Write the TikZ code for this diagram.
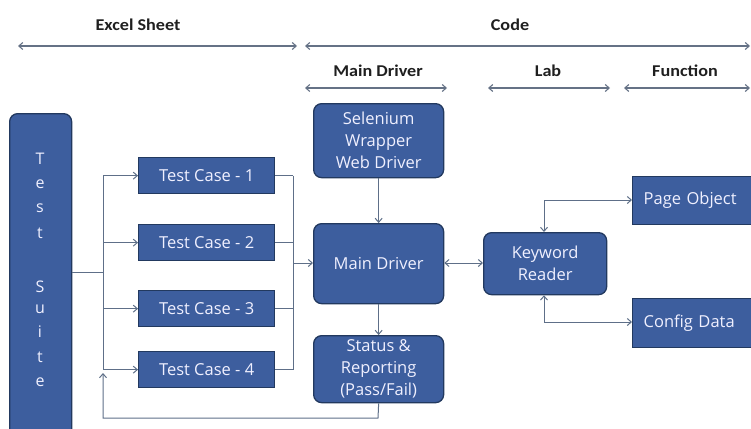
\documentclass[tikz,border=0pt]{standalone}
\usepackage{fontspec}
\setmainfont{Open Sans}
\newfontfamily\headfont{Carlito}[FakeStretch=1.1]
\usetikzlibrary{arrows.meta}
\definecolor{boxfill}{HTML}{3D5E9E}
\definecolor{boxedge}{HTML}{22395F}
\definecolor{wire}{HTML}{5E6F88}
\tikzset{
  x=1pt, y=-1pt,
  blockbox/.style={draw=boxedge, line width=1.3pt, fill=boxfill, text=white!94!blue,
    font=\fontsize{16.5}{22}\selectfont, inner sep=0pt, anchor=north west},
  roundbox/.style={blockbox, rounded corners=8pt, align=center},
  wirepen/.style={draw=wire, line width=1pt},
  tip/.style={-{Straight Barb[length=4pt,width=7pt]}},
  bitip/.style={{Straight Barb[length=4pt,width=7pt]}-{Straight Barb[length=4pt,width=7pt]}},
  headlabel/.style={font=\headfont\bfseries\fontsize{16.5}{19}\selectfont, text=black!88},
  spanarrow/.style={draw=wire!80!gray, line width=1.1pt, bitip},
}
\begin{document}
\begin{tikzpicture}
\useasboundingbox (0,0) rectangle (751,428);

% section headings
\node[headlabel] (hExcel) at (138,25) {Excel Sheet};
\node[headlabel] (hCode) at (510,25) {Code};
\node[headlabel] (hMain) at (378,71) {Main Driver};
\node[headlabel] (hLab) at (548,71) {Lab};
\node[headlabel] (hFunc) at (685,71) {Function};
\coordinate (eL) at (18,46);  \coordinate (eR) at (297,46);
\coordinate (cL) at (305,46); \coordinate (cR) at (750,46);
\coordinate (mL) at (305,88); \coordinate (mR) at (447,88);
\coordinate (lL) at (488,88); \coordinate (lR) at (610,88);
\coordinate (fL) at (624,88); \coordinate (fR) at (750,88);
\draw[spanarrow] (eL) -- (eR);
\draw[spanarrow] (cL) -- (cR);
\draw[spanarrow] (mL) -- (mR);
\draw[spanarrow] (lL) -- (lR);
\draw[spanarrow] (fL) -- (fR);

% test suite column
\node[roundbox, minimum width=62pt, minimum height=330pt] (suite) at (9,113) {};
\foreach \ch/\yy in {T/159,e/184,s/208,t/233,S/287,u/309,i/332,t/357,e/382}
  \node[text=white!94!blue, font=\fontsize{16}{18}\selectfont] at (40,\yy) {\ch};

% test cases
\foreach \i/\yy in {1/157,2/224,3/290,4/351}
  \node[blockbox, minimum width=136pt, minimum height=36pt] (tc\i) at (138,\yy) {Test Case - \i};

% driver column
\node[roundbox, minimum width=130pt, minimum height=74pt] (selen) at (313,103)
  {Selenium\\Wrapper\\Web Driver};
\node[roundbox, minimum width=130pt, minimum height=80pt] (main) at (313,223) {Main Driver};
\node[roundbox, minimum width=130pt, minimum height=67pt] (status) at (313,335)
  {Status \&\\Reporting\\(Pass/Fail)};

% keyword reader and its data
\node[roundbox, minimum width=123pt, minimum height=62pt] (kw) at (483,232) {Keyword\\Reader};
\node[blockbox, minimum width=130pt, minimum height=48pt, text width=119pt, align=left, inner xsep=11pt]
  (page) at (632,176) {Page Object};
\node[blockbox, minimum width=130pt, minimum height=49pt, text width=119pt, align=left, inner xsep=11pt]
  (config) at (632,298) {Config Data};

% fan-out from the suite to the test cases
\coordinate (busL) at (103,272);
\draw[wirepen] (suite.east |- busL) -- (busL);
\draw[wirepen] (busL |- tc1.west) -- (busL |- tc4.west);
\foreach \i in {1,...,4}
  \draw[wirepen, tip] (busL |- tc\i.west) -- (tc\i.west);

% fan-in from the test cases to the main driver
\coordinate (busR) at (293,263);
\draw[wirepen] (busR |- tc1.east) -- (busR |- tc4.east);
\foreach \i in {1,...,4}
  \draw[wirepen] (tc\i.east) -- (busR |- tc\i.east);
\draw[wirepen, tip] (busR) -- (busR -| main.west);

% driver chain
\draw[wirepen, tip] (selen.south) -- (main.north);
\draw[wirepen, tip] (main.south) -- (status.north);
\draw[wirepen, bitip] (main.east |- busR) -- (kw.west |- busR);

% feedback from reporting back to the suite loop
\coordinate (fbA) at (378,418);
\coordinate (fbB) at (103,418);
\coordinate (fbC) at (103,373);
\draw[wirepen, tip] (status.south) -- (fbA) -- (fbB) -- (fbC);

% keyword reader links
\coordinate (kpT) at (544,200);
\coordinate (kpB) at (544,322);
\draw[wirepen, bitip] (kw.north -| kpT) -- (kpT) -- (kpT -| page.west);
\draw[wirepen, bitip] (kw.south -| kpB) -- (kpB) -- (kpB -| config.west);
\end{tikzpicture}
\end{document}
